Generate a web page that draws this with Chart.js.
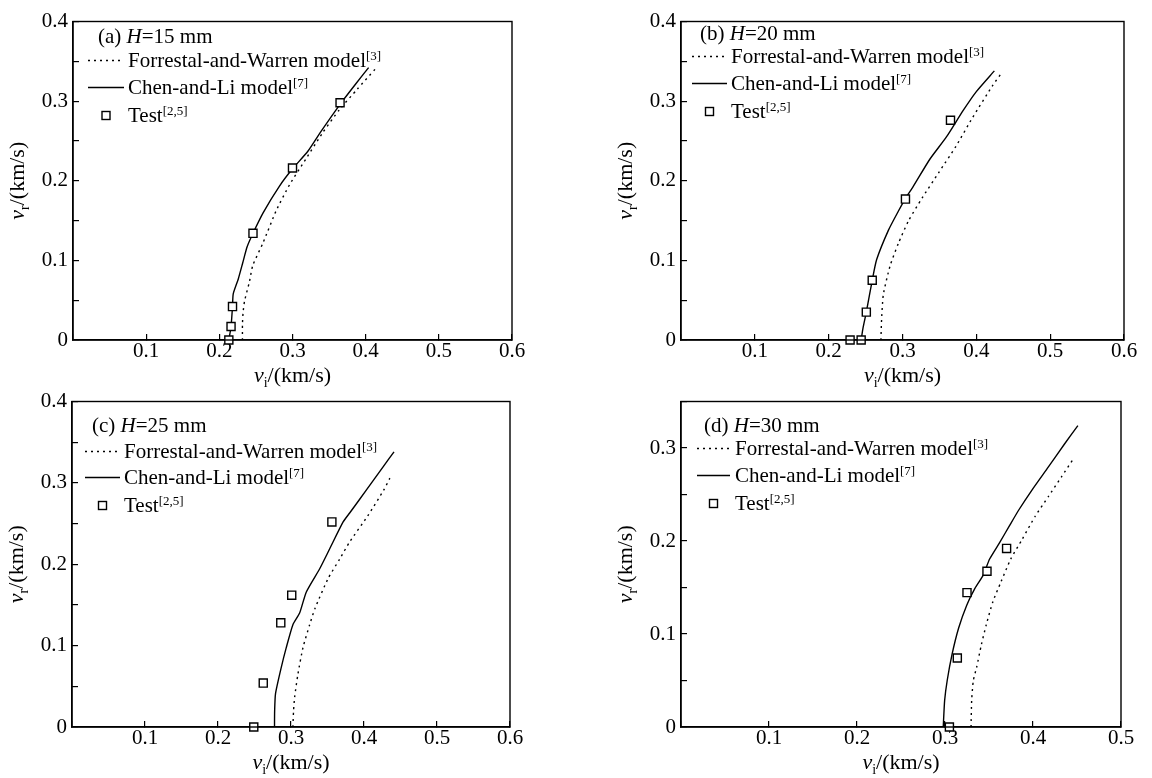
<!DOCTYPE html>
<html>
<head>
<meta charset="utf-8">
<script src="https://cdn.jsdelivr.net/npm/chart.js@4/dist/chart.umd.min.js"></script>
<style>
html, body { margin: 0; padding: 0; background: #fff; }
body { width: 1152px; height: 778px; position: relative; overflow: hidden; }
canvas { position: absolute; }
</style>
</head>
<body>
<canvas id="pa" width="576" height="389" style="left:0;top:0"></canvas>
<canvas id="pb" width="576" height="389" style="left:576px;top:0"></canvas>
<canvas id="pc" width="576" height="398" style="left:0;top:380px"></canvas>
<canvas id="pd" width="576" height="398" style="left:576px;top:380px"></canvas>
<script>
const SERIF = '"Liberation Serif", "Times New Roman", serif';

const panelTags = ['(a)', '(b)', '(c)', '(d)'];
const thicknessMM = [15, 20, 25, 30];
const seriesNames = ['Forrestal-and-Warren model', 'Chen-and-Li model', 'Test'];
const seriesRefs = ['[3]', '[7]', '[2,5]'];
const xMax = [0.6, 0.6, 0.6, 0.5];
const yMax = [0.4, 0.4, 0.4, 0.35];

// [vi, vr] in km/s
// (a) H=15 mm
const fwA = [[0.2316,0],[0.2316,0.02],[0.2325,0.035],[0.2345,0.049],[0.2411,0.073],[0.2457,0.0935],
  [0.2597,0.122],[0.2778,0.1626],[0.296,0.195],[0.3185,0.2276],[0.341,0.26],[0.3636,0.2886],[0.3885,0.315],[0.4134,0.3406]];
const clA = [[0.213,0],[0.216,0.017],[0.218,0.042],[0.219,0.058],[0.226,0.077],[0.232,0.097],[0.238,0.117],
  [0.246,0.134],[0.260,0.160],[0.282,0.193],[0.300,0.215],[0.321,0.237],[0.339,0.262],[0.365,0.296],[0.385,0.320],[0.404,0.342]];
const testA = [[0.213,0],[0.216,0.017],[0.218,0.042],[0.246,0.134],[0.300,0.216],[0.365,0.298]];

// (b) H=20 mm
const fwB = [[0.2708,0],[0.2715,0.022],[0.274,0.0567],[0.2832,0.0932],[0.2945,0.1215],[0.3082,0.1498],
  [0.3265,0.1782],[0.3493,0.2106],[0.3722,0.243],[0.395,0.2795],[0.4224,0.32],[0.4347,0.336]];
const clB = [[0.244,0],[0.2465,0.015],[0.251,0.035],[0.259,0.075],[0.265,0.101],[0.281,0.138],[0.2945,0.162],
  [0.304,0.178],[0.314,0.192],[0.337,0.227],[0.3595,0.255],[0.382,0.288],[0.400,0.312],[0.4244,0.338]];
const testB = [[0.229,0],[0.244,0],[0.251,0.035],[0.259,0.075],[0.304,0.177],[0.365,0.276]];

// (c) H=25 mm
const fwC = [[0.3026,0],[0.3035,0.02],[0.305,0.0368],[0.3095,0.065],[0.3164,0.0975],[0.3256,0.1258],[0.333,0.146],
  [0.3508,0.1824],[0.3669,0.2067],[0.38,0.227],[0.405,0.2593],[0.4273,0.2916],[0.4354,0.3058]];
const clC = [[0.2774,0],[0.2776,0.02],[0.2788,0.041],[0.2866,0.073],[0.2935,0.0975],[0.3026,0.1258],[0.3118,0.14],
  [0.321,0.166],[0.3393,0.1945],[0.353,0.219],[0.3714,0.252],[0.3806,0.2633],[0.4036,0.2916],[0.4264,0.32],[0.4411,0.3382]];
const testC = [[0.249,0],[0.262,0.054],[0.286,0.128],[0.301,0.162],[0.356,0.252]];

// (d) H=30 mm
const fwD = [[0.3296,0],[0.3303,0.0286],[0.3322,0.05],[0.3359,0.064],[0.3414,0.0888],[0.3469,0.11],[0.3544,0.1347],
  [0.3636,0.156],[0.3747,0.1806],[0.3877,0.2018],[0.4025,0.2266],[0.4175,0.2478],[0.4324,0.269],[0.4466,0.2895]];
const clD = [[0.298,0],[0.2996,0.0286],[0.3025,0.05],[0.308,0.078],[0.3155,0.1064],[0.3247,0.131],[0.334,0.149],
  [0.3433,0.163],[0.3507,0.1806],[0.3619,0.198],[0.373,0.216],[0.384,0.2336],[0.3988,0.2548],[0.4175,0.2797],[0.436,0.3046],[0.451,0.324]];
const testD = [[0.305,0],[0.314,0.0742],[0.325,0.1445],[0.3477,0.1675],[0.370,0.192]];

const fwData = [fwA, fwB, fwC, fwD];
const clData = [clA, clB, clC, clD];
const testData = [testA, testB, testC, testD];

// plot area inside each canvas: left, top, right, bottom
const areas = [[73, 12, 512, 340], [105, 11, 548, 340], [72, 17, 510, 347], [105, 17, 545, 347]];
// legend placement relative to plot area
const legendAt = [
  {tx: 25, ty: 21, sx0: 15, sx1: 51, lx: 55, ly: [45, 72, 100]},
  {tx: 19, ty: 18, sx0: 11, sx1: 46, lx: 50, ly: [41, 68, 96]},
  {tx: 20, ty: 30, sx0: 13, sx1: 48, lx: 52, ly: [56, 82, 110]},
  {tx: 23, ty: 30, sx0: 16, sx1: 49, lx: 54, ly: [53, 80, 108]}
];

const f = (size, italic) => (italic ? 'italic ' : '') + size + 'px ' + SERIF;

function drawParts(ctx, parts, x, y, align) {
  let w = 0;
  parts.forEach(p => { ctx.font = p.font; w += ctx.measureText(p.t).width; });
  let cx = align === 'center' ? x - w / 2 : x;
  parts.forEach(p => {
    ctx.font = p.font;
    ctx.fillText(p.t, cx, y + (p.dy || 0));
    cx += ctx.measureText(p.t).width;
  });
}

const decor = {
  id: 'decor',
  afterDraw(chart, args, opts) {
    const i = opts.idx, a = chart.chartArea, ctx = chart.ctx, L = legendAt[i];
    ctx.save();
    ctx.strokeStyle = '#000';
    ctx.lineWidth = 1.4;
    ctx.strokeRect(a.left, a.top, a.right - a.left, a.bottom - a.top);
    ctx.fillStyle = '#000';
    ctx.textAlign = 'left';
    ctx.textBaseline = 'alphabetic';

    drawParts(ctx, [{t: 'v', font: f(22, true)}, {t: 'i', font: f(14), dy: 5}, {t: '/(km/s)', font: f(22)}],
      (a.left + a.right) / 2, a.bottom + 42, 'center');
    ctx.save();
    ctx.translate(a.left - 49, (a.top + a.bottom) / 2);
    ctx.rotate(-Math.PI / 2);
    drawParts(ctx, [{t: 'v', font: f(22, true)}, {t: 'r', font: f(14), dy: 5}, {t: '/(km/s)', font: f(22)}], 0, 0, 'center');
    ctx.restore();

    drawParts(ctx, [{t: panelTags[i] + ' ', font: f(21)}, {t: 'H', font: f(21, true)}, {t: '=' + thicknessMM[i] + ' mm', font: f(21)}],
      a.left + L.tx, a.top + L.ty, 'left');

    for (let k = 0; k < 3; k++) {
      const by = a.top + L.ly[k], my = by - 6;
      ctx.lineWidth = 1.4;
      if (k < 2) {
        ctx.setLineDash(k === 0 ? [2, 4] : []);
        ctx.beginPath();
        ctx.moveTo(a.left + L.sx0, my);
        ctx.lineTo(a.left + L.sx1, my);
        ctx.stroke();
        ctx.setLineDash([]);
      } else {
        const mx = a.left + (L.sx0 + L.sx1) / 2;
        ctx.fillStyle = '#fff';
        ctx.fillRect(mx - 4, my - 4, 8, 8);
        ctx.strokeRect(mx - 4, my - 4, 8, 8);
        ctx.fillStyle = '#000';
      }
      drawParts(ctx, [{t: seriesNames[k], font: f(21)}, {t: seriesRefs[k], font: f(13), dy: -7}], a.left + L.lx, by, 'left');
    }
    ctx.restore();
  }
};

const toXY = arr => arr.map(p => ({x: p[0], y: p[1]}));
const ids = ['pa', 'pb', 'pc', 'pd'];

ids.forEach((id, i) => {
  const cv = document.getElementById(id);
  const ar = areas[i];
  new Chart(cv, {
    type: 'scatter',
    data: {
      datasets: [
        {label: seriesNames[2], data: toXY(testData[i]), order: 0, showLine: false, pointStyle: 'rect',
          pointRadius: 5.7, pointBorderWidth: 1.4, borderColor: '#000', backgroundColor: '#fff', clip: false},
        {label: seriesNames[1], data: toXY(clData[i]), order: 1, showLine: true, borderColor: '#000',
          borderWidth: 1.4, pointRadius: 0, tension: 0.2, fill: false},
        {label: seriesNames[0], data: toXY(fwData[i]), order: 2, showLine: true, borderColor: '#000',
          borderWidth: 1.4, borderDash: [2, 4], pointRadius: 0, tension: 0.2, fill: false}
      ]
    },
    options: {
      responsive: false,
      animation: false,
      events: [],
      layout: {padding: {top: ar[1], right: cv.width - ar[2], bottom: 0, left: 0}},
      plugins: {legend: {display: false}, tooltip: {enabled: false}, decor: {idx: i}},
      scales: {
        x: {
          type: 'linear', min: 0, max: xMax[i],
          border: {color: '#000', width: 1.4},
          grid: {drawOnChartArea: false, drawTicks: true, tickLength: -6, color: '#000', lineWidth: 1.2},
          ticks: {stepSize: 0.1, autoSkip: false, maxRotation: 0, color: '#000', padding: 7,
            font: {family: SERIF, size: 21, lineHeight: 1},
            callback: v => v === 0 ? '' : String(Math.round(v * 10) / 10)},
          afterFit: s => { s.height = cv.height - ar[3]; }
        },
        y: {
          type: 'linear', min: 0, max: yMax[i],
          border: {color: '#000', width: 1.4},
          grid: {drawOnChartArea: false, drawTicks: true, tickLength: -6, color: '#000', lineWidth: 1.2},
          ticks: {stepSize: 0.05, autoSkip: false, color: '#000', padding: 11,
            font: {family: SERIF, size: 21, lineHeight: 1},
            callback: v => { const k = Math.round(v * 20); return k % 2 === 0 ? String(k / 20) : ''; }},
          afterFit: s => { s.width = ar[0]; }
        }
      }
    },
    plugins: [decor]
  });
});
</script>
</body>
</html>
